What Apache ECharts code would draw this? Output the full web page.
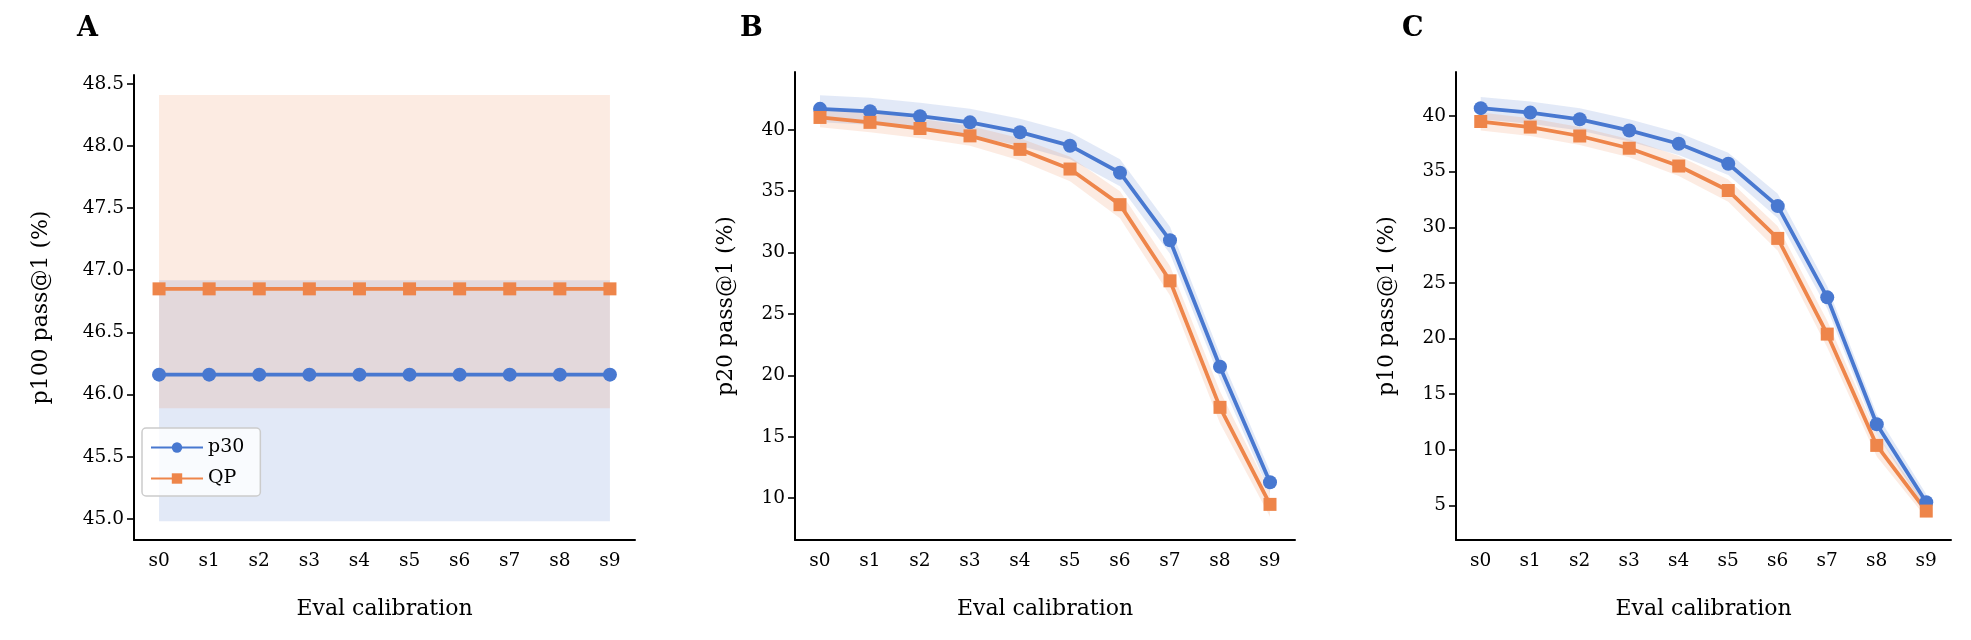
<!DOCTYPE html>
<html>
<head>
<meta charset="utf-8">
<title>pass@1 vs eval calibration</title>
<script src="https://cdn.jsdelivr.net/npm/echarts@6/dist/echarts.min.js"></script>
<style>
  html, body { margin: 0; padding: 0; background: #fff; }
  #chart { width: 1971px; height: 640px; }
</style>
</head>
<body>
<div id="chart"></div>
<script>
// data
var categories = ['s0', 's1', 's2', 's3', 's4', 's5', 's6', 's7', 's8', 's9'];

// panel A (p100)
var aP30 = [46.16, 46.16, 46.16, 46.16, 46.16, 46.16, 46.16, 46.16, 46.16, 46.16];
var aP30Lo = [44.98, 44.98, 44.98, 44.98, 44.98, 44.98, 44.98, 44.98, 44.98, 44.98];
var aP30Hi = [46.92, 46.92, 46.92, 46.92, 46.92, 46.92, 46.92, 46.92, 46.92, 46.92];
var aQP = [46.85, 46.85, 46.85, 46.85, 46.85, 46.85, 46.85, 46.85, 46.85, 46.85];
var aQPLo = [45.89, 45.89, 45.89, 45.89, 45.89, 45.89, 45.89, 45.89, 45.89, 45.89];
var aQPHi = [48.41, 48.41, 48.41, 48.41, 48.41, 48.41, 48.41, 48.41, 48.41, 48.41];

// panel B (p20)
var bP30 = [41.7, 41.5, 41.1, 40.6, 39.8, 38.7, 36.5, 31.0, 20.7, 11.3];
var bP30Lo = [40.6, 40.4, 40.0, 39.5, 38.7, 37.6, 35.4, 29.9, 19.7, 10.4];
var bP30Hi = [42.8, 42.6, 42.2, 41.7, 40.9, 39.8, 37.6, 32.1, 21.7, 12.2];
var bQP = [41.0, 40.6, 40.1, 39.5, 38.4, 36.8, 33.9, 27.7, 17.4, 9.5];
var bQPLo = [40.2, 39.8, 39.3, 38.7, 37.5, 35.8, 32.8, 26.5, 16.1, 8.5];
var bQPHi = [41.8, 41.4, 40.9, 40.3, 39.3, 37.8, 35.0, 28.9, 18.7, 10.5];

// panel C (p10)
var cP30 = [40.7, 40.3, 39.7, 38.7, 37.5, 35.7, 31.9, 23.7, 12.3, 5.3];
var cP30Lo = [39.7, 39.3, 38.7, 37.7, 36.5, 34.7, 30.8, 22.7, 11.4, 4.6];
var cP30Hi = [41.7, 41.3, 40.7, 39.7, 38.5, 36.7, 33.0, 24.7, 13.2, 6.0];
var cQP = [39.5, 39.0, 38.2, 37.1, 35.5, 33.3, 29.0, 20.4, 10.4, 4.5];
var cQPLo = [38.7, 38.2, 37.4, 36.3, 34.6, 32.3, 27.9, 19.2, 9.4, 3.9];
var cQPHi = [40.3, 39.8, 39.0, 37.9, 36.4, 34.3, 30.1, 21.6, 11.4, 5.1];

var aTicks = [45.0, 45.5, 46.0, 46.5, 47.0, 47.5, 48.0, 48.5];
var bTicks = [10, 15, 20, 25, 30, 35, 40];
var cTicks = [5, 10, 15, 20, 25, 30, 35, 40];

var BLUE = '#4878d0', ORANGE = '#ee854a';
var FONT = 'DejaVu Serif';

var chart = echarts.init(document.getElementById('chart'));

var grids = [
  { left: 134, top: 75, width: 501, height: 465 },
  { left: 795, top: 72, width: 500, height: 468 },
  { left: 1456, top: 72, width: 495, height: 468 }
];

function xAxis(i) {
  return {
    type: 'category', gridIndex: i, data: categories, boundaryGap: true,
    name: 'Eval calibration', nameLocation: 'middle', nameGap: 58,
    nameTextStyle: { fontFamily: FONT, fontSize: 22, color: '#000' },
    axisLine: { lineStyle: { color: '#000', width: 2 } },
    axisTick: { alignWithLabel: true, length: 7, lineStyle: { color: '#000', width: 1.6 } },
    axisLabel: { fontFamily: FONT, fontSize: 18.5, color: '#000', margin: 12 },
    splitLine: { show: false }
  };
}

function yAxis(i, name, min, max, ticks, gap, digits) {
  return {
    type: 'value', gridIndex: i, min: min, max: max,
    name: name, nameLocation: 'middle', nameGap: gap,
    nameTextStyle: { fontFamily: FONT, fontSize: 22, color: '#000' },
    axisLine: { show: true, lineStyle: { color: '#000', width: 2 } },
    axisTick: { show: true, length: 7, customValues: ticks, lineStyle: { color: '#000', width: 1.6 } },
    axisLabel: {
      fontFamily: FONT, fontSize: 18.5, color: '#000', margin: 10, customValues: ticks,
      formatter: function (v) { return v.toFixed(digits); }
    },
    splitLine: { show: false }
  };
}

function band(i, key, lo, hi, color) {
  var diff = hi.map(function (h, k) { return +(h - lo[k]).toFixed(3); });
  return [
    { type: 'line', xAxisIndex: i, yAxisIndex: i, stack: key, data: lo, symbol: 'none',
      lineStyle: { opacity: 0 }, silent: true, z: 1 },
    { type: 'line', xAxisIndex: i, yAxisIndex: i, stack: key, data: diff, symbol: 'none',
      lineStyle: { opacity: 0 }, areaStyle: { color: color, opacity: 0.16 }, silent: true, z: 1 }
  ];
}

function main(i, name, data, color, symbol, size) {
  return {
    type: 'line', name: name, xAxisIndex: i, yAxisIndex: i, data: data,
    symbol: symbol, symbolSize: size, showAllSymbol: true,
    itemStyle: { color: color }, lineStyle: { color: color, width: 3.8 }, z: 3
  };
}

var series = [].concat(
  band(0, 'a1', aP30Lo, aP30Hi, BLUE), band(0, 'a2', aQPLo, aQPHi, ORANGE),
  [main(0, 'p30', aP30, BLUE, 'circle', 14), main(0, 'QP', aQP, ORANGE, 'rect', 13)],
  band(1, 'b1', bP30Lo, bP30Hi, BLUE), band(1, 'b2', bQPLo, bQPHi, ORANGE),
  [main(1, 'p30', bP30, BLUE, 'circle', 14), main(1, 'QP', bQP, ORANGE, 'rect', 13)],
  band(2, 'c1', cP30Lo, cP30Hi, BLUE), band(2, 'c2', cQPLo, cQPHi, ORANGE),
  [main(2, 'p30', cP30, BLUE, 'circle', 14), main(2, 'QP', cQP, ORANGE, 'rect', 13)]
);

chart.setOption({
  animation: false,
  backgroundColor: '#fff',
  title: [
    { text: 'A', left: 72, top: 10, textStyle: { fontFamily: FONT, fontSize: 27, fontWeight: 'bold', color: '#000' } },
    { text: 'B', left: 735, top: 10, textStyle: { fontFamily: FONT, fontSize: 27, fontWeight: 'bold', color: '#000' } },
    { text: 'C', left: 1397, top: 10, textStyle: { fontFamily: FONT, fontSize: 27, fontWeight: 'bold', color: '#000' } }
  ],
  legend: {
    data: ['p30', 'QP'], orient: 'vertical', left: 142, top: 428,
    itemWidth: 52, itemHeight: 13, itemGap: 12,
    padding: [10, 16, 8, 8],
    backgroundColor: 'rgba(255,255,255,0.8)', borderColor: '#ccc', borderWidth: 1.5, borderRadius: 4,
    textStyle: { fontFamily: FONT, fontSize: 19, color: '#000' }
  },
  grid: grids,
  xAxis: [xAxis(0), xAxis(1), xAxis(2)],
  yAxis: [
    yAxis(0, 'p100 pass@1 (%)', 44.83, 48.57, aTicks, 82, 1),
    yAxis(1, 'p20 pass@1 (%)', 6.6, 44.7, bTicks, 58, 0),
    yAxis(2, 'p10 pass@1 (%)', 1.9, 43.95, cTicks, 58, 0)
  ],
  series: series
});
</script>
</body>
</html>
